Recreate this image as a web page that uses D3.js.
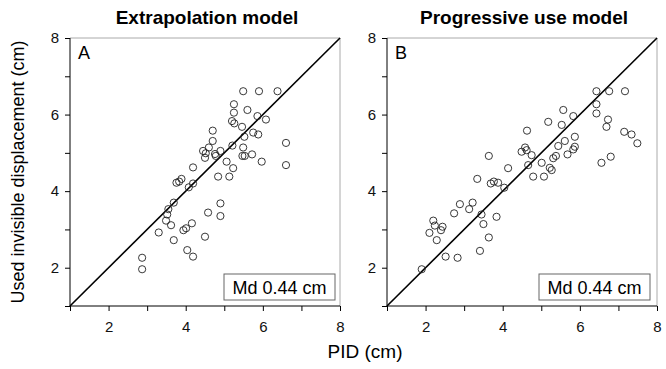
<!DOCTYPE html>
<html>
<head>
<meta charset="utf-8">
<script src="https://cdn.jsdelivr.net/npm/d3@7"></script>
<style>
  body { margin: 0; background: #fff; }
  text { font-family: "Liberation Sans", Arial, sans-serif; }
</style>
</head>
<body>
<div id="chart"></div>
<script>
// panel titles / letters
const panelTitles = ["Extrapolation model", "Progressive use model"];
const panelLetters = ["A", "B"];
const medianLabel = "Md 0.44 cm";
const tickValues = [2, 4, 6, 8];

// Panel A: extrapolation model [PID, used displacement]
const pidA = [5.49, 5.90, 6.38, 5.25, 5.25, 5.60, 5.20, 5.26, 5.46, 5.86, 6.08, 4.70, 4.70, 5.75, 5.88,
  5.52, 6.60, 4.60, 5.21, 5.49, 4.45, 4.52, 4.50, 4.76, 4.78, 4.90, 5.47, 5.53, 5.72, 5.06,
  5.97, 6.60, 5.23, 4.84, 5.13, 4.90, 4.58, 4.90, 4.50, 4.19, 3.76, 3.83, 3.89, 4.08, 4.19,
  3.69, 3.55, 3.52, 3.49, 3.62, 3.30, 3.69, 3.94, 4.01, 4.16, 4.04, 4.19, 2.87, 2.87];
const usedA = [6.61, 6.61, 6.61, 6.27, 6.05, 6.12, 5.83, 5.77, 5.68, 5.96, 5.87, 5.58, 5.31, 5.53, 5.48,
  5.42, 5.26, 5.14, 5.19, 5.14, 5.05, 4.99, 4.87, 4.97, 4.92, 5.05, 4.92, 4.92, 4.96, 4.77,
  4.77, 4.68, 4.60, 4.38, 4.38, 3.68, 3.44, 3.35, 2.81, 4.62, 4.22, 4.25, 4.32, 4.10, 4.20,
  3.70, 3.53, 3.39, 3.23, 3.11, 2.92, 2.72, 2.98, 3.03, 3.16, 2.46, 2.29, 2.26, 1.96];

// Panel B: progressive use model
const pidB = [6.43, 6.76, 7.17, 6.43, 6.43, 5.57, 5.83, 6.73, 6.69, 5.18, 5.53, 4.63, 5.87, 5.61, 5.44,
  5.87, 5.83, 5.68, 5.38, 5.31, 4.58, 4.62, 4.75, 4.49, 7.15, 7.34, 7.49, 6.56, 6.80, 5.01,
  5.22, 4.66, 4.79, 5.07, 5.27, 4.14, 3.34, 3.69, 3.77, 3.88, 4.04, 2.89, 3.22, 3.13, 2.74,
  3.45, 3.50, 3.84, 2.20, 2.24, 2.44, 2.40, 2.10, 2.29, 3.64, 3.41, 2.52, 2.83, 1.90, 3.64];
const usedB = [6.61, 6.61, 6.61, 6.27, 6.03, 6.12, 5.96, 5.87, 5.68, 5.81, 5.73, 5.58, 5.42, 5.31, 5.18,
  5.16, 5.09, 4.96, 4.92, 4.86, 5.14, 5.07, 4.94, 5.03, 5.55, 5.48, 5.25, 4.74, 4.90, 4.74,
  4.61, 4.68, 4.38, 4.38, 4.55, 4.60, 4.32, 4.20, 4.25, 4.22, 4.09, 3.66, 3.70, 3.53, 3.42,
  3.39, 3.14, 3.33, 3.23, 3.10, 3.07, 2.98, 2.91, 2.72, 2.79, 2.44, 2.29, 2.26, 1.96, 4.92];

const panels = [
  {x: pidA, y: usedA, left: 70},
  {x: pidB, y: usedB, left: 387}
];

const W = 666, H = 369;
const plotTop = 38, plotW = 270, plotH = 268;

const svg = d3.select("#chart").append("svg")
    .attr("width", W)
    .attr("height", H);

panels.forEach(function(p, i) {
    const g = svg.append("g")
        .attr("transform", "translate(" + p.left + "," + plotTop + ")");

    const x = d3.scaleLinear().domain([1, 8]).range([0, plotW]);
    const y = d3.scaleLinear().domain([1, 8]).range([plotH, 0]);

    // light frame on top / right
    g.append("path")
        .attr("d", "M0,0H" + plotW + "V" + plotH)
        .attr("fill", "none")
        .attr("stroke", "#aaa")
        .attr("stroke-width", 1);

    const xAxis = d3.axisBottom(x)
        .tickValues(d3.range(1, 9))
        .tickSize(5)
        .tickFormat(function(d) { return tickValues.includes(d) ? d : ""; });
    const yAxis = d3.axisLeft(y)
        .tickValues(d3.range(1, 9))
        .tickSize(5)
        .tickFormat(function(d) { return tickValues.includes(d) ? d : ""; });

    const gx = g.append("g")
        .attr("transform", "translate(0," + plotH + ")")
        .call(xAxis);
    gx.select(".domain").attr("stroke", "#000").attr("d", "M0,0H" + plotW);
    gx.selectAll(".tick text")
        .attr("dy", "1.2em")
        .style("font-size", "15px")
        .attr("fill", "#111");

    const gy = g.append("g").call(yAxis);
    gy.select(".domain").attr("stroke", "#000").attr("d", "M0," + plotH + "V0");
    gy.selectAll(".tick text")
        .attr("x", -11)
        .style("font-size", "15px")
        .attr("fill", "#111");

    // identity line
    g.append("line")
        .attr("x1", x(1)).attr("y1", y(1))
        .attr("x2", x(8)).attr("y2", y(8))
        .attr("stroke", "#000")
        .attr("stroke-width", 1.6);

    // points
    g.selectAll("circle")
        .data(d3.range(p.x.length))
        .join("circle")
        .attr("cx", function(j) { return x(p.x[j]); })
        .attr("cy", function(j) { return y(p.y[j]); })
        .attr("r", 3.6)
        .attr("fill", "none")
        .attr("stroke", "#222")
        .attr("stroke-width", 0.9);

    // panel letter
    g.append("text")
        .attr("x", 8)
        .attr("y", 21)
        .style("font-size", "18px")
        .text(panelLetters[i]);

    // median box
    const bx = i === 0 ? 154 : 152, by = 236;
    g.append("rect")
        .attr("x", bx).attr("y", by)
        .attr("width", 111).attr("height", 26)
        .attr("fill", "#fff")
        .attr("stroke", "#666")
        .attr("stroke-width", 1);
    g.append("text")
        .attr("x", bx + 55.5)
        .attr("y", by + 19.5)
        .attr("text-anchor", "middle")
        .style("font-size", "18px")
        .text(medianLabel);

    // title
    svg.append("text")
        .attr("x", p.left + plotW / 2 + 2)
        .attr("y", 24)
        .attr("text-anchor", "middle")
        .style("font-size", "19px")
        .style("font-weight", "bold")
        .text(panelTitles[i]);
});

svg.append("text")
    .attr("transform", "translate(24,172) rotate(-90)")
    .attr("text-anchor", "middle")
    .style("font-size", "18px")
    .text("Used invisible displacement (cm)");

svg.append("text")
    .attr("x", 365)
    .attr("y", 358)
    .attr("text-anchor", "middle")
    .style("font-size", "19px")
    .text("PID (cm)");
</script>
</body>
</html>
